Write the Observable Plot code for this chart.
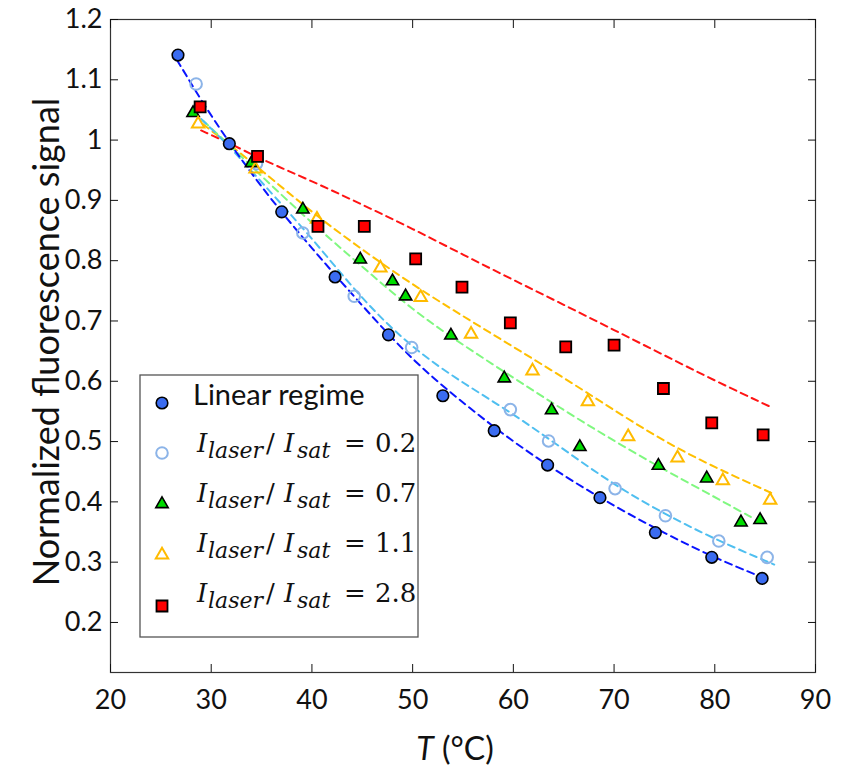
<!DOCTYPE html>
<html><head><meta charset="utf-8">
<script src="https://cdn.jsdelivr.net/npm/d3@7"></script>
<script src="https://cdn.jsdelivr.net/npm/@observablehq/plot@0.6"></script>
<style>
body{margin:0;background:#fff;}
#wrap{position:relative;width:841px;height:769px;}
</style></head><body><div id="wrap"></div>
<script>
// ---- measured data (T in °C, normalized signal) ----
const linT = [26.7, 31.8, 37.0, 42.3, 47.6, 53.0, 58.1, 63.4, 68.6, 74.1, 79.7, 84.7];
const linY = [1.141, 0.994, 0.881, 0.773, 0.677, 0.576, 0.518, 0.461, 0.407, 0.349, 0.308, 0.273];
const s02T = [28.5, 34.5, 39.1, 44.2, 49.9, 59.7, 63.5, 70.1, 75.1, 80.4, 85.2];
const s02Y = [1.093, 0.961, 0.846, 0.741, 0.656, 0.553, 0.501, 0.422, 0.377, 0.335, 0.308];
const s07T = [28.2, 34.0, 39.1, 44.8, 48.0, 49.3, 53.8, 59.1, 63.8, 66.6, 74.4, 79.2, 82.6, 84.5];
const s07Y = [1.045, 0.962, 0.885, 0.802, 0.766, 0.741, 0.676, 0.605, 0.552, 0.491, 0.460, 0.439, 0.366, 0.370];
const s11T = [28.7, 34.4, 40.5, 46.8, 50.8, 55.8, 61.9, 67.4, 71.4, 76.3, 80.8, 85.5];
const s11Y = [1.027, 0.952, 0.869, 0.788, 0.739, 0.678, 0.617, 0.566, 0.508, 0.473, 0.435, 0.403];
const s28T = [28.9, 34.6, 40.6, 45.2, 50.3, 54.9, 59.7, 65.2, 70.0, 74.9, 79.7, 84.8];
const s28Y = [1.055, 0.973, 0.857, 0.857, 0.803, 0.756, 0.697, 0.657, 0.660, 0.588, 0.531, 0.511];

// ---- fitted dashed curves ----
const fitLinT = [26.6, 30, 35, 40, 45, 50, 55, 60, 65, 70, 75, 80, 84.7];
const fitLinY = [1.133, 1.038, 0.920, 0.820, 0.725, 0.634, 0.564, 0.499, 0.443, 0.393, 0.348, 0.307, 0.275];
const fit02T = [29.0, 31.8, 35, 40, 45, 50, 55, 60, 65, 70, 75, 80, 85.9];
const fit02Y = [1.035, 0.990, 0.930, 0.838, 0.735, 0.654, 0.597, 0.546, 0.487, 0.428, 0.380, 0.338, 0.296];
const fit07T = [29.2, 31.8, 35, 40, 45, 50, 55, 60, 65, 70, 75, 80, 84.0];
const fit07Y = [1.032, 0.992, 0.940, 0.862, 0.790, 0.718, 0.660, 0.606, 0.552, 0.501, 0.453, 0.408, 0.371];
const fit11T = [29.2, 31.8, 35, 40, 45, 50, 55, 60, 65, 70, 75, 80, 85.6];
const fit11Y = [1.026, 0.993, 0.950, 0.880, 0.818, 0.760, 0.708, 0.657, 0.606, 0.552, 0.500, 0.457, 0.415];
const fit28T = [29.0, 31.8, 35, 40, 45, 50, 55, 60, 65, 70, 75, 80, 85.6];
const fit28Y = [1.016, 0.995, 0.968, 0.932, 0.893, 0.853, 0.810, 0.768, 0.727, 0.685, 0.643, 0.601, 0.557];

// ---- ticks & labels ----
const xTicks = [20, 30, 40, 50, 60, 70, 80, 90];
const yTicks = [0.2, 0.3, 0.4, 0.5, 0.6, 0.7, 0.8, 0.9, 1.0, 1.1, 1.2];
const yTickLabels = ["0.2", "0.3", "0.4", "0.5", "0.6", "0.7", "0.8", "0.9", "1", "1.1", "1.2"];
const legendValues = ["0.2", "0.7", "1.1", "2.8"];
const linearLabel = "Linear regime";

const pts = (T, Y) => T.map((t, i) => ({T: t, v: Y[i]}));
const dash = "7,5";

const C = {
  lin: "#3b6cf0", s02: "#8cb4e8", s07: "#00dd00", s11: "#ffbb00", s28: "#ff0000",
  fLin: "#0a14ff", f02: "#4fbff0", f07: "#80f880", f11: "#ffbf00", f28: "#ff1414"
};

const chart = Plot.plot({
  width: 841, height: 769,
  marginLeft: 110, marginRight: 26, marginTop: 19, marginBottom: 97,
  style: {fontFamily: "Lato, 'Open Sans', sans-serif", fontSize: "27px", color: "#111", background: "#fff"},
  x: {domain: [20, 90]},
  y: {domain: [0.117, 1.2]},
  marks: [
    Plot.line(pts(fit28T, fit28Y), {x: "T", y: "v", stroke: C.f28, strokeWidth: 2, strokeDasharray: dash, curve: "basis"}),
    Plot.line(pts(fit11T, fit11Y), {x: "T", y: "v", stroke: C.f11, strokeWidth: 2, strokeDasharray: dash, curve: "basis"}),
    Plot.line(pts(fit07T, fit07Y), {x: "T", y: "v", stroke: C.f07, strokeWidth: 2, strokeDasharray: dash, curve: "basis"}),
    Plot.line(pts(fit02T, fit02Y), {x: "T", y: "v", stroke: C.f02, strokeWidth: 2, strokeDasharray: dash, curve: "basis"}),
    Plot.line(pts(fitLinT, fitLinY), {x: "T", y: "v", stroke: C.fLin, strokeWidth: 2, strokeDasharray: dash, curve: "basis"}),
    Plot.dot(pts(linT, linY), {x: "T", y: "v", symbol: "circle", r: 5.8, fill: C.lin, stroke: "#000", strokeWidth: 1.6}),
    Plot.dot(pts(s02T, s02Y), {x: "T", y: "v", symbol: "circle", r: 5.8, fill: "none", stroke: C.s02, strokeWidth: 2}),
    Plot.dot(pts(s07T, s07Y), {x: "T", y: "v", symbol: "triangle", r: 4.6, fill: C.s07, stroke: "#000", strokeWidth: 1.6}),
    Plot.dot(pts(s11T, s11Y), {x: "T", y: "v", symbol: "triangle", r: 4.6, fill: "none", stroke: C.s11, strokeWidth: 2}),
    Plot.dot(pts(s28T, s28Y), {x: "T", y: "v", symbol: "square", r: 6.2, fill: C.s28, stroke: "#000", strokeWidth: 1.8}),
    Plot.frame({stroke: "#333", strokeWidth: 1.2}),
    Plot.axisX(xTicks, {anchor: "bottom", tickSize: 0, tickPadding: 17, label: null}),
    Plot.axisX(xTicks, {anchor: "bottom", tickSize: -8, tickFormat: () => "", label: null}),
    Plot.axisX(xTicks, {anchor: "top", tickSize: -8, tickFormat: () => "", label: null}),
    Plot.axisY(yTicks, {anchor: "left", tickSize: 0, tickPadding: 8, label: null,
      tickFormat: d => yTickLabels[yTicks.findIndex(t => Math.abs(t - d) < 1e-9)]}),
    Plot.axisY(yTicks, {anchor: "left", tickSize: -8, tickFormat: () => "", label: null}),
    Plot.axisY(yTicks, {anchor: "right", tickSize: -8, tickFormat: () => "", label: null})
  ]
});
document.getElementById("wrap").appendChild(chart);

const svg = d3.select(chart);
// axis titles
svg.append("text")
  .attr("transform", "translate(59,342) rotate(-90)")
  .attr("text-anchor", "middle")
  .style("font-family", "Lato, sans-serif").style("font-size", "36px").attr("fill", "#111")
  .text("Normalized fluorescence signal");
const xl = svg.append("text")
  .attr("x", 455).attr("y", 760).attr("text-anchor", "middle")
  .style("font-family", "Lato, sans-serif").style("font-size", "32px").attr("fill", "#111");
xl.append("tspan").style("font-style", "italic").text("T");
xl.append("tspan").text(" (°C)");

// legend
const lg = svg.append("g").attr("text-anchor", "start");
lg.append("rect").attr("x", 140).attr("y", 375).attr("width", 278).attr("height", 262)
  .attr("fill", "#fff").attr("stroke", "#555").attr("stroke-width", 1.3);
const mx = 162;
const rowsY = [403, 453, 504, 555, 606];
const sym = (type, r) => d3.symbol(type, r * r * Math.PI)();
lg.append("path").attr("d", sym(d3.symbolCircle, 5.8)).attr("transform", `translate(${mx},${rowsY[0]})`)
  .attr("fill", C.lin).attr("stroke", "#000").attr("stroke-width", 1.6);
lg.append("path").attr("d", sym(d3.symbolCircle, 5.8)).attr("transform", `translate(${mx},${rowsY[1]})`)
  .attr("fill", "none").attr("stroke", C.s02).attr("stroke-width", 2);
lg.append("path").attr("d", sym(d3.symbolTriangle, 4.6)).attr("transform", `translate(${mx},${rowsY[2]})`)
  .attr("fill", C.s07).attr("stroke", "#000").attr("stroke-width", 1.6);
lg.append("path").attr("d", sym(d3.symbolTriangle, 4.6)).attr("transform", `translate(${mx},${rowsY[3]})`)
  .attr("fill", "none").attr("stroke", C.s11).attr("stroke-width", 2);
lg.append("path").attr("d", sym(d3.symbolSquare, 6.2)).attr("transform", `translate(${mx},${rowsY[4]})`)
  .attr("fill", C.s28).attr("stroke", "#000").attr("stroke-width", 1.8);

lg.append("text").attr("x", 193).attr("y", 405).attr("text-anchor", "start")
  .style("font-family", "Lato, sans-serif").style("font-size", "29px").attr("fill", "#111")
  .text(linearLabel);
const mathBase = [451.5, 501.5, 551.5, 601.5];
legendValues.forEach((v, i) => {
  const t = lg.append("text").attr("y", mathBase[i]).attr("text-anchor", "start")
    .style("font-family", "'DejaVu Serif', serif").style("font-size", "26px").attr("fill", "#111");
  t.append("tspan").attr("x", 197).style("font-style", "italic").text("I");
  t.append("tspan").attr("x", 208).attr("dy", 6).style("font-style", "italic").style("font-size", "22px").text("laser");
  t.append("tspan").attr("x", 266).attr("dy", -6).text("/");
  t.append("tspan").attr("x", 284).style("font-style", "italic").text("I");
  t.append("tspan").attr("x", 297).attr("dy", 6).style("font-style", "italic").style("font-size", "22px").text("sat");
  t.append("tspan").attr("x", 344).attr("dy", -6).text("=");
  t.append("tspan").attr("x", 375).text(v);
});
</script></body></html>
